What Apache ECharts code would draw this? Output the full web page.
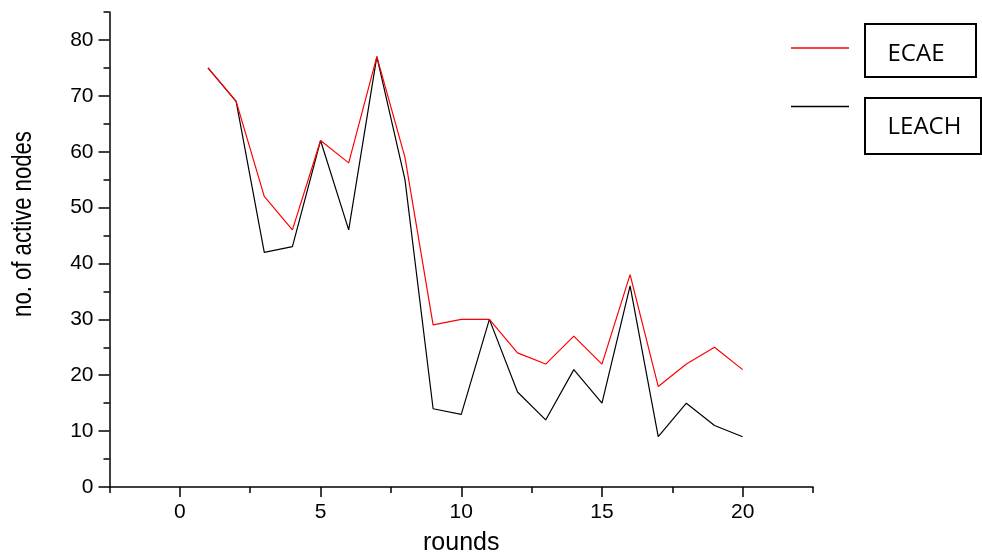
<!DOCTYPE html>
<html>
<head>
<meta charset="utf-8">
<script src="https://cdn.jsdelivr.net/npm/echarts@6/dist/echarts.min.js"></script>
<style>html,body{margin:0;padding:0;background:#fff}#c{width:982px;height:558px}</style>
</head>
<body>
<div id="c"></div>
<script>
const rounds = [1,2,3,4,5,6,7,8,9,10,11,12,13,14,15,16,17,18,19,20];
const ecae  = [75,69,52,46,62,58,77,59,29,30,30,24,22,27,22,38,18,22,25,21];
const leach = [75,69,42,43,62,46,77,55,14,13,30,17,12,21,15,36,9,15,11,9];
const xMajorTicks = [0,5,10,15,20];
const xMinorTicks = [-2.5,2.5,7.5,12.5,17.5,22.5];
const yMajorTicks = [0,10,20,30,40,50,60,70,80];
const yMinorTicks = [5,15,25,35,45,55,65,75,85];
const seriesNames = ['ECAE','LEACH'];
const xTitle = 'rounds';
const yTitle = 'no. of active nodes';

const chart = echarts.init(document.getElementById('c'), null, {renderer:'canvas'});
const axisFont = 'Liberation Sans, Arial, sans-serif';
const lineStyleAxis = {color:'#000', width:1.5};

const mkX = (major) => ({
  type:'value', min:-2.5, max:22.5, interval:2.5, position:'bottom',
  splitLine:{show:false},
  axisLine:{show:major, onZero:false, lineStyle:lineStyleAxis},
  axisTick:{show:true, inside:false, length: major?10:6, lineStyle:{color:'#000', width:1.5},
            customValues: major ? xMajorTicks : xMinorTicks},
  axisLabel:{show:major, customValues:xMajorTicks, margin:15, color:'#000', fontSize:21, fontFamily:axisFont},
  name: major ? xTitle : '', nameLocation:'middle', nameGap:44,
  nameTextStyle:{color:'#000', fontSize:25, fontFamily:axisFont}
});
const mkY = (major) => ({
  type:'value', min:0, max:85, interval:5, position:'left',
  splitLine:{show:false},
  axisLine:{show:major, onZero:false, lineStyle:lineStyleAxis},
  axisTick:{show:true, inside:false, length: major?11:6, lineStyle:{color:'#000', width:1.5},
            customValues: major ? yMajorTicks : yMinorTicks},
  axisLabel:{show:major, customValues:yMajorTicks, margin:16, color:'#000', fontSize:21, fontFamily:axisFont}
});

const option = {
  backgroundColor:'#fff',
  animation:false,
  grid:{left:109.5, right:169, top:12, bottom:71, containLabel:false, outerBoundsMode:'none'},
  xAxis:[mkX(true), mkX(false)],
  yAxis:[mkY(true), mkY(false)],
  series:[
    {name:seriesNames[0], type:'line', xAxisIndex:0, yAxisIndex:0, showSymbol:false, symbol:'none',
     lineStyle:{color:'#ff0000', width:1.2}, data: rounds.map((r,i)=>[r, ecae[i]]), z:3},
    {name:seriesNames[1], type:'line', xAxisIndex:0, yAxisIndex:0, showSymbol:false, symbol:'none',
     lineStyle:{color:'#000000', width:1.2}, data: rounds.map((r,i)=>[r, leach[i]]), z:2}
  ],
  graphic:[
    {type:'text', x:24, y:224, rotation:Math.PI/2, scaleX:0.82,
     style:{text:yTitle, fill:'#000', font:'27px "Liberation Sans", Arial, sans-serif', textAlign:'center', textVerticalAlign:'middle'}},
    {type:'line', shape:{x1:791, y1:48, x2:849, y2:48}, style:{stroke:'#ff0000', lineWidth:1.5}},
    {type:'rect', shape:{x:865, y:24, width:111, height:53}, style:{fill:'#fff', stroke:'#000', lineWidth:2}},
    {type:'text', x:916, y:54, style:{text:seriesNames[0], fill:'#000', font:'24px "Open Sans", sans-serif', textAlign:'center', textVerticalAlign:'middle'}},
    {type:'line', shape:{x1:791, y1:106.5, x2:849, y2:106.5}, style:{stroke:'#000', lineWidth:1.5}},
    {type:'rect', shape:{x:865, y:98, width:116, height:56}, style:{fill:'#fff', stroke:'#000', lineWidth:2}},
    {type:'text', x:924.5, y:127, style:{text:seriesNames[1], fill:'#000', font:'24px "Open Sans", sans-serif', textAlign:'center', textVerticalAlign:'middle'}}
  ]
};
chart.setOption(option);
</script>
</body>
</html>
